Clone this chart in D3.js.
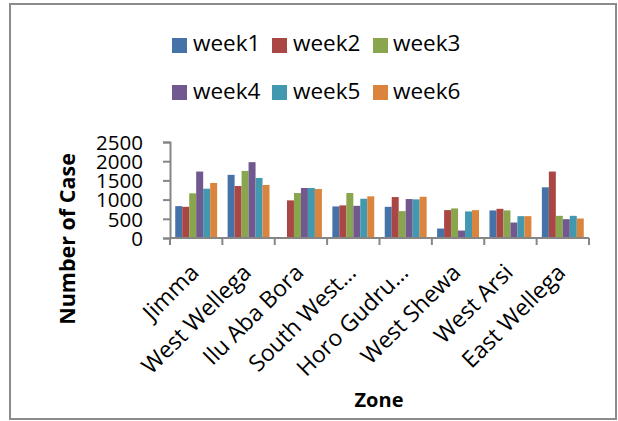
<!DOCTYPE html>
<html>
<head>
<meta charset="utf-8">
<script src="https://cdn.jsdelivr.net/npm/d3@7"></script>
<style>
  html, body { margin: 0; padding: 0; background: #fff; }
  svg { display: block; }
  text { font-family: "Open Sans", "DejaVu Sans", sans-serif; fill: #000; }
</style>
</head>
<body>
<svg id="chart" width="618" height="421"></svg>
<script>
// ---- data ----
const zones = ["Jimma", "West Wellega", "Ilu Aba Bora", "South West…", "Horo Gudru…", "West Shewa", "West Arsi", "East Wellega"];
const weeks = ["week1", "week2", "week3", "week4", "week5", "week6"];
const week1 = [830, 1645, 0, 822, 812, 246, 718, 1320];
const week2 = [812, 1354, 980, 849, 1066, 726, 760, 1730];
const week3 = [1163, 1747, 1171, 1171, 700, 770, 718, 577];
const week4 = [1730, 1975, 1302, 838, 1014, 194, 403, 490];
const week5 = [1284, 1564, 1302, 1022, 1006, 692, 569, 577];
const week6 = [1433, 1381, 1276, 1085, 1074, 726, 569, 508];
const yTicks = [0, 500, 1000, 1500, 2000, 2500];
const colors = ["#4572A7", "#AA4643", "#89A54E", "#71588F", "#4198AF", "#DB843D"];

const series = [week1, week2, week3, week4, week5, week6];

const svg = d3.select("#chart");

// outer border
svg.append("rect")
  .attr("x", 10).attr("y", 4).attr("width", 606).attr("height", 415)
  .attr("fill", "none").attr("stroke", "#8c8c8c").attr("stroke-width", 2);

// scales
const x = d3.scaleBand().domain(zones).range([170, 589]).paddingInner(0).paddingOuter(0);
const xi = d3.scaleBand().domain(weeks).range([0, x.bandwidth()]).paddingInner(0).paddingOuter(0.75);
const y = d3.scaleLinear().domain([0, 2500]).range([238, 142]);
const color = d3.scaleOrdinal().domain(weeks).range(colors);

// bars
const groups = svg.append("g").selectAll("g")
  .data(zones)
  .join("g")
  .attr("transform", d => `translate(${x(d)},0)`);

groups.selectAll("rect")
  .data((z, i) => weeks.map((w, k) => ({ w, v: series[k][i] })))
  .join("rect")
  .attr("x", d => xi(d.w))
  .attr("width", xi.bandwidth())
  .attr("y", d => y(d.v))
  .attr("height", d => y(0) - y(d.v))
  .attr("fill", d => color(d.w));

// y axis
const yAxis = svg.append("g")
  .attr("transform", "translate(170,0)")
  .call(d3.axisLeft(y).tickValues(yTicks).tickSize(7).tickPadding(20).tickFormat(d3.format("d")));
yAxis.select(".domain").attr("stroke", "#868686").attr("stroke-width", 2);
yAxis.selectAll(".tick line").attr("stroke", "#868686").attr("stroke-width", 2);
yAxis.selectAll(".tick text")
  .style("font-family", '"Open Sans", sans-serif')
  .style("font-size", "20.5px")
  .attr("fill", "#000")
  .attr("dy", "0.36em");

// x axis (ticks at category boundaries)
const xAxisG = svg.append("g").attr("transform", "translate(0,238)");
xAxisG.append("line")
  .attr("x1", x.range()[0]).attr("x2", x.range()[1])
  .attr("stroke", "#868686").attr("stroke-width", 2);
const bounds = zones.map(z => x(z)).concat([x.range()[1]]);
xAxisG.selectAll("line.tk")
  .data(bounds)
  .join("line")
  .attr("class", "tk")
  .attr("x1", d => d).attr("x2", d => d)
  .attr("y1", 0).attr("y2", 7)
  .attr("stroke", "#868686").attr("stroke-width", 2);

// x labels
svg.append("g").selectAll("text")
  .data(zones)
  .join("text")
  .attr("text-anchor", "end")
  .attr("transform", d => `translate(${x(d) + x.bandwidth() / 2 + 4},274) rotate(-45)`)
  .style("font-size", "23px")
  .text(d => d);

// axis titles
svg.append("text")
  .attr("text-anchor", "middle")
  .attr("transform", "translate(75,239) rotate(-90)")
  .style("font-size", "21.5px")
  .style("font-weight", "bold")
  .text("Number of Case");

svg.append("text")
  .attr("text-anchor", "middle")
  .attr("x", 379).attr("y", 407)
  .style("font-size", "20px")
  .style("font-weight", "bold")
  .text("Zone");

// legend
const legendPos = [
  { sx: 172, sy: 38, tx: 193, ty: 51 },
  { sx: 272, sy: 38, tx: 293, ty: 51 },
  { sx: 373, sy: 38, tx: 393, ty: 51 },
  { sx: 172, sy: 85, tx: 193, ty: 99 },
  { sx: 272, sy: 85, tx: 293, ty: 99 },
  { sx: 373, sy: 85, tx: 393, ty: 99 }
];
const legend = svg.append("g").selectAll("g")
  .data(weeks)
  .join("g");
legend.append("rect")
  .attr("x", (d, i) => legendPos[i].sx)
  .attr("y", (d, i) => legendPos[i].sy)
  .attr("width", 15).attr("height", 15)
  .attr("fill", d => color(d));
legend.append("text")
  .attr("x", (d, i) => legendPos[i].tx)
  .attr("y", (d, i) => legendPos[i].ty)
  .style("font-size", "22.5px")
  .text(d => d);
</script>
</body>
</html>
